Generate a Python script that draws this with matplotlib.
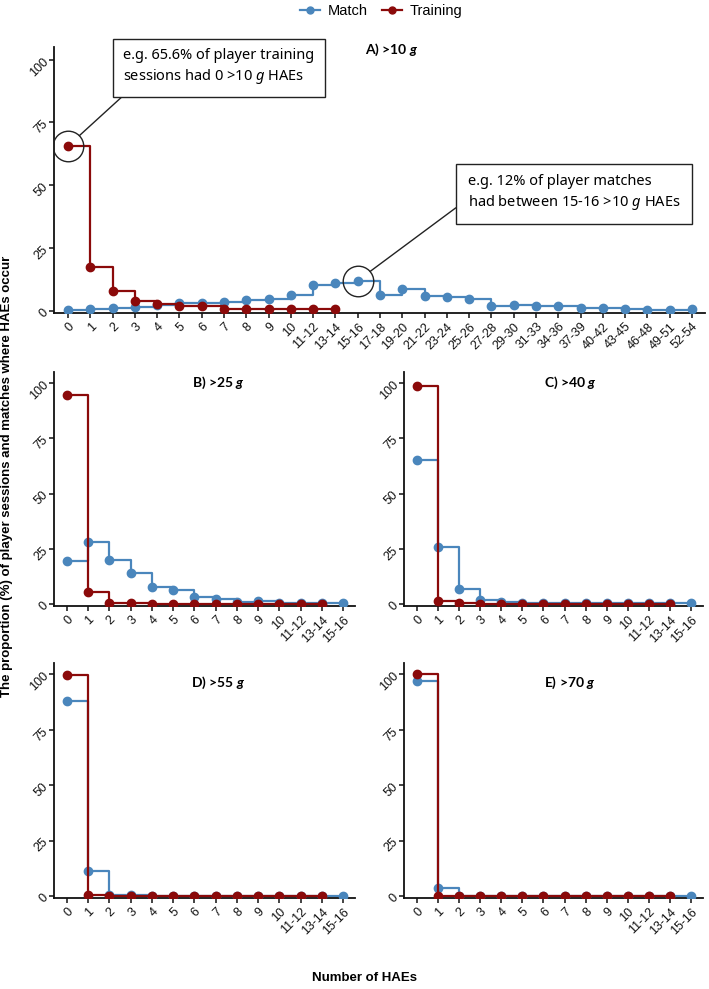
import matplotlib
matplotlib.use("Agg")
import matplotlib.pyplot as plt
from matplotlib.lines import Line2D

plt.rcParams['font.family'] = ['Liberation Sans', 'DejaVu Sans']
plt.rcParams['mathtext.fontset'] = 'custom'
plt.rcParams['mathtext.it'] = 'Noto Sans:italic'
if 'mathtext.bfit' in plt.rcParams:
    plt.rcParams['mathtext.bfit'] = 'Lato:italic:bold'

# ---------------- data ----------------
labels_a = ['0', '1', '2', '3', '4', '5', '6', '7', '8', '9', '10', '11-12', '13-14',
            '15-16', '17-18', '19-20', '21-22', '23-24', '25-26', '27-28', '29-30',
            '31-33', '34-36', '37-39', '40-42', '43-45', '46-48', '49-51', '52-54']
labels_b = ['0', '1', '2', '3', '4', '5', '6', '7', '8', '9', '10', '11-12', '13-14', '15-16']

match_a = [0.4, 0.8, 1.0, 1.6, 2.3, 2.9, 2.9, 3.6, 4.4, 4.8, 6.4, 10.3, 11.0,
           12.0, 6.1, 8.7, 5.8, 5.6, 4.6, 1.9, 2.3, 1.9, 1.9, 1.2, 1.1, 0.7, 0.4, 0.4, 0.7]
training_a = [65.6, 17.3, 7.9, 4.0, 2.8, 1.7, 1.7, 0.7, 0.6, 0.5, 0.6, 0.5, 0.6]

match_b = [19.3, 27.9, 19.9, 13.9, 7.6, 6.3, 3.0, 2.1, 1.1, 1.5, 0.6, 0.3, 0.3, 0.5]
training_b = [94.7, 5.4, 0.3, 0.3, 0.2, 0.2, 0.2, 0.2, 0.2, 0.2, 0.2, 0.2, 0.2]

match_c = [65.3, 26.0, 6.8, 1.8, 1.1, 0.4, 0.3, 0.3, 0.3, 0.3, 0.3, 0.3, 0.3, 0.3]
training_c = [98.8, 1.5, 0.3, 0.2, 0.2, 0.2, 0.2, 0.2, 0.2, 0.2, 0.2, 0.2, 0.2]

match_d = [88.1, 11.1, 0.6, 0.5, 0.1, 0.1, 0.1, 0.1, 0.1, 0.1, 0.1, 0.1, 0.1, 0.2]
training_d = [99.7, 0.5, 0.2, 0.2, 0.2, 0.2, 0.2, 0.2, 0.2, 0.2, 0.2, 0.2, 0.2]

match_e = [96.8, 3.4, 0.1, 0.1, 0.1, 0.1, 0.1, 0.1, 0.1, 0.1, 0.1, 0.1, 0.1, 0.2]
training_e = [100.0, 0.1, 0.1, 0.1, 0.1, 0.1, 0.1, 0.1, 0.1, 0.1, 0.1, 0.1, 0.1]

titles = ['A) >10', 'B) >25', 'C) >40', 'D) >55', 'E) >70']
yticks = [0, 25, 50, 75, 100]

BLUE = '#4a86bc'
RED = '#8b0a0a'

W, H = 709, 989
fig = plt.figure(figsize=(W / 100, H / 100), dpi=100)


def add_ax(left, right, top, bottom):
    return fig.add_axes([left / W, 1 - bottom / H, (right - left) / W, (bottom - top) / H])


def style(ax, labels, xlim):
    for s in ['top', 'right']:
        ax.spines[s].set_visible(False)
    for s in ['left', 'bottom']:
        ax.spines[s].set_linewidth(1.3)
        ax.spines[s].set_color('#111111')
    ax.set_xlim(*xlim)
    ax.set_ylim(-0.9, 105)
    ax.set_xticks(range(len(labels)))
    ax.set_xticklabels(labels, rotation=45, ha='right', rotation_mode='anchor',
                       fontsize=9, color='#111111')
    ax.set_yticks(yticks)
    ax.set_yticklabels([str(v) for v in yticks], rotation=45, ha='right', va='center',
                       rotation_mode='anchor', fontsize=9, color='#111111')
    ax.tick_params(axis='both', length=3.5, width=1.1, color='#111111', pad=2)


def draw(ax, match, training):
    xm = list(range(len(match)))
    xt = list(range(len(training)))
    ax.step(xm, match, where='post', color=BLUE, lw=1.6, zorder=2)
    ax.plot(xm, match, 'o', color=BLUE, ms=6, zorder=3)
    ax.step(xt, training, where='post', color=RED, lw=1.6, zorder=4)
    ax.plot(xt, training, 'o', color=RED, ms=6, zorder=5)


def title(ax, text, xfrac, yfrac):
    if 'mathtext.bfit' in plt.rcParams:
        s = text + r' $\mathbfit{g}$'
    else:
        s = text + r' $g$'
    ax.text(xfrac, yfrac, s, transform=ax.transAxes,
            ha='center', va='center', fontsize=10, fontweight='bold', family=['Lato', 'DejaVu Sans'])


# Panel A
axA = add_ax(54, 705, 47, 313)
draw(axA, match_a, training_a)
style(axA, labels_a, (-0.63, 28.58))
title(axA, titles[0], (392 - 54) / (705 - 54), 1 - (50 - 47) / (313 - 47))

# Panels B-E
rects = [(54, 355, 372, 606), (404, 703, 372, 606), (54, 355, 663, 898), (404, 703, 663, 898)]
mdata = [match_b, match_c, match_d, match_e]
tdata = [training_b, training_c, training_d, training_e]
tcx = [218, 570, 218, 570]
tcy = [383, 383, 683, 683]
for i in range(4):
    l, r, t, b = rects[i]
    ax = add_ax(l, r, t, b)
    draw(ax, mdata[i], tdata[i])
    style(ax, labels_b, (-0.6, 13.55))
    title(ax, titles[i + 1], (tcx[i] - l) / (r - l), 1 - (tcy[i] - t) / (b - t))

# Annotations on panel A
ann_font = dict(fontsize=10.5, family=['Noto Sans', 'DejaVu Sans'])
axA.plot([0], [training_a[0]], 'o', ms=22, mfc='none', mec='#222222', mew=1.0, zorder=6)
axA.plot([13], [match_a[13]], 'o', ms=22, mfc='none', mec='#222222', mew=1.0, zorder=6)

axA.annotate('e.g. 65.6% of player training\nsessions had 0 >10 $g$ HAEs',
             xy=(0, training_a[0]), xycoords='data',
             xytext=(123, H - 67), textcoords='figure pixels',
             ha='left', va='center', linespacing=1.35,
             bbox=dict(boxstyle='square,pad=0.72', fc='white', ec='#222222', lw=1.0),
             arrowprops=dict(arrowstyle='-', color='#222222', lw=1.0, shrinkA=0, shrinkB=11,
                             relpos=(0.055, 0.0)),
             zorder=7, **ann_font)

axA.annotate('e.g. 12% of player matches\nhad between 15-16 >10 $g$ HAEs',
             xy=(13, match_a[13]), xycoords='data',
             xytext=(468, H - 193), textcoords='figure pixels',
             ha='left', va='center', linespacing=1.35,
             bbox=dict(boxstyle='square,pad=0.8', fc='white', ec='#222222', lw=1.0),
             arrowprops=dict(arrowstyle='-', color='#222222', lw=1.0, shrinkA=0, shrinkB=11,
                             relpos=(0.0, 0.35)),
             zorder=7, **ann_font)

# Axis labels
fig.text(7 / W, 1 - 476 / H, 'The proportion (%) of player sessions and matches where HAEs occur',
         rotation=90, ha='center', va='center', fontsize=9.5, fontweight='bold')
fig.text(364 / W, 1 - 978 / H, 'Number of HAEs', ha='center', va='center',
         fontsize=9.5, fontweight='bold')

# Legend
handles = [Line2D([], [], color=BLUE, marker='o', ms=5, lw=1.6),
           Line2D([], [], color=RED, marker='o', ms=5, lw=1.6)]
fig.legend(handles, ['Match', 'Training'], loc='center', ncol=2,
           bbox_to_anchor=(381 / W, 1 - 11 / H), frameon=False, fontsize=10.5,
           handlelength=1.4, handletextpad=0.5, columnspacing=1.0)

fig.savefig('out.png', dpi=100)
